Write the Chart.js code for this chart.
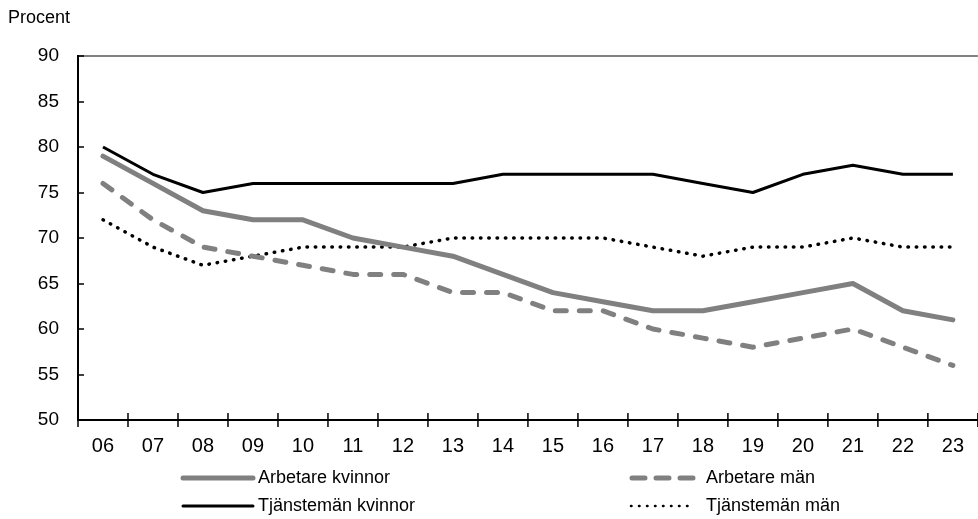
<!DOCTYPE html>
<html><head><meta charset="utf-8">
<script src="https://cdn.jsdelivr.net/npm/chart.js@4"></script>
<style>html,body{margin:0;padding:0;background:#fff}#wrap{width:978px;height:519px;position:relative}</style>
</head><body><div id="wrap"><canvas id="c" width="978" height="519"></canvas></div>
<script>
const years = ['06','07','08','09','10','11','12','13','14','15','16','17','18','19','20','21','22','23'];
const arbetareKvinnor   = [79,76,73,72,72,70,69,68,66,64,63,62,62,63,64,65,62,61];
const arbetareMan       = [76,72,69,68,67,66,66,64,64,62,62,60,59,58,59,60,58,56];
const tjanstemanKvinnor = [80,77,75,76,76,76,76,76,77,77,77,77,76,75,77,78,77,77];
const tjanstemanMan     = [72,69,67,68,69,69,69,70,70,70,70,69,68,69,69,70,69,69];
const seriesNames = ['Arbetare kvinnor','Arbetare män','Tjänstemän kvinnor','Tjänstemän män'];
const yMin = 50, yMax = 90, yStep = 5;
const yTitle = 'Procent';

const FONT = '"Liberation Sans", Arial, sans-serif';
const GREY = '#808080';

const overlay = {
  id: 'overlay',
  afterDraw(chart) {
    const ctx = chart.ctx, a = chart.chartArea;
    const xs = chart.scales.x, ys = chart.scales.y;
    ctx.save();
    // top border
    ctx.strokeStyle = GREY; ctx.lineWidth = 2;
    ctx.beginPath(); ctx.moveTo(a.left, a.top); ctx.lineTo(a.right, a.top); ctx.stroke();
    // axes
    ctx.strokeStyle = '#000'; ctx.lineWidth = 2;
    ctx.beginPath(); ctx.moveTo(a.left, a.top - 1); ctx.lineTo(a.left, a.bottom); ctx.lineTo(a.right, a.bottom); ctx.stroke();
    // y inside ticks
    ctx.lineWidth = 1.5;
    ys.ticks.forEach(t => {
      const y = Math.round(ys.getPixelForValue(t.value));
      ctx.beginPath(); ctx.moveTo(a.left, y); ctx.lineTo(a.left + 6, y); ctx.stroke();
    });
    // x ticks between categories
    const n = years.length;
    for (let i = 0; i <= n; i++) {
      const x = i === 0 ? a.left : (xs.getPixelForValue(i - 1) + xs.getPixelForValue(Math.min(i, n - 1)) ) / 2;
      const xx = i === n ? a.right : x;
      ctx.beginPath(); ctx.moveTo(xx, a.bottom - (i === 0 ? 0 : 7)); ctx.lineTo(xx, a.bottom + 7); ctx.stroke();
    }
    // y title
    ctx.fillStyle = '#000'; ctx.font = '18px ' + FONT; ctx.textBaseline = 'middle'; ctx.textAlign = 'left';
    ctx.fillText(yTitle, 8, 18);
    // legend
    const ds = chart.data.datasets;
    const items = [
      {i:0, x1:183, x2:253, tx:258, y:478},
      {i:1, x1:632, x2:694, tx:706, y:478},
      {i:2, x1:183, x2:253, tx:258, y:506},
      {i:3, x1:631, x2:695, tx:706, y:506}
    ];
    items.forEach(it => {
      const d = ds[it.i];
      ctx.save();
      ctx.strokeStyle = d.borderColor; ctx.lineWidth = d.legendWidth;
      ctx.lineCap = d.legendCap; ctx.setLineDash(d.legendDash);
      ctx.beginPath(); ctx.moveTo(it.x1, it.y); ctx.lineTo(it.x2, it.y); ctx.stroke();
      ctx.restore();
      ctx.fillStyle = '#000'; ctx.font = '18px ' + FONT; ctx.textBaseline = 'middle'; ctx.textAlign = 'left';
      ctx.fillText(seriesNames[it.i], it.tx, it.y);
    });
    ctx.restore();
  }
};

new Chart(document.getElementById('c'), {
  type: 'line',
  data: {
    labels: years,
    datasets: [
      {label: seriesNames[0], data: arbetareKvinnor, borderColor: GREY, borderWidth: 5, pointRadius: 0, tension: 0,
       borderCapStyle: 'round', borderJoinStyle: 'round', legendWidth: 5, legendCap: 'round', legendDash: []},
      {label: seriesNames[1], data: arbetareMan, borderColor: GREY, borderWidth: 5, pointRadius: 0, tension: 0,
       borderDash: [11, 13], borderCapStyle: 'round', borderJoinStyle: 'round', legendWidth: 5, legendCap: 'round', legendDash: [13, 11]},
      {label: seriesNames[2], data: tjanstemanKvinnor, borderColor: '#000', borderWidth: 3, pointRadius: 0, tension: 0,
       borderJoinStyle: 'round', legendWidth: 3, legendCap: 'round', legendDash: []},
      {label: seriesNames[3], data: tjanstemanMan, borderColor: '#000', borderWidth: 3.5, pointRadius: 0, tension: 0,
       borderDash: [0.5, 7.8], borderCapStyle: 'round', borderJoinStyle: 'round', legendWidth: 2.5, legendCap: 'round', legendDash: [0.5, 7.5]}
    ]
  },
  options: {
    responsive: false, animation: false, devicePixelRatio: 1,
    layout: {padding: {top: 56, right: 0, left: 0, bottom: 0}},
    plugins: {legend: {display: false}, tooltip: {enabled: false}},
    scales: {
      x: {
        offset: true,
        grid: {display: false, drawTicks: false},
        border: {display: false},
        ticks: {color: '#000', font: {family: FONT, size: 20}, padding: 14, maxRotation: 0, autoSkip: false},
        afterFit(s) { s.height = 99; }
      },
      y: {
        min: yMin, max: yMax,
        grid: {display: false, drawTicks: false},
        border: {display: false},
        ticks: {stepSize: yStep, color: '#000', font: {family: FONT, size: 19}, padding: 19},
        afterFit(s) { s.width = 78; }
      }
    }
  },
  plugins: [overlay]
});
</script></body></html>
